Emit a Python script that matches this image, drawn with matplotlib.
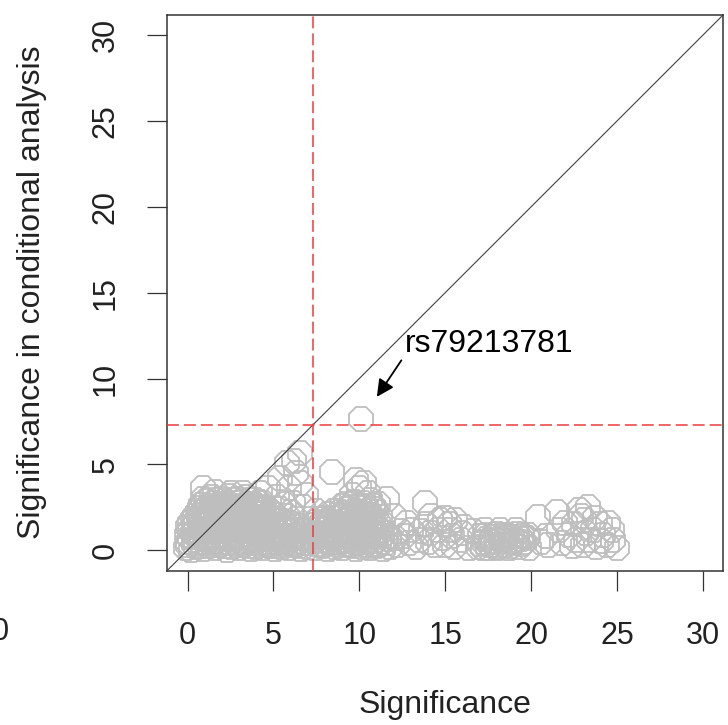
import matplotlib
matplotlib.use("Agg")
from matplotlib import pyplot as plt

plt.rcParams['font.family'] = ['Liberation Sans', 'DejaVu Sans']

# (significance, significance in conditional analysis)
low_block = [
    (-0.1, 0.1), (0.2, 0.0), (0.5, 0.2), (0.9, 0.05), (1.2, 0.25), (1.6, 0.1), (1.9, 0.3),
    (2.3, 0.0), (2.6, 0.2), (3.0, 0.1), (3.3, 0.3), (3.7, 0.05), (4.0, 0.2), (4.4, 0.1),
    (4.8, 0.25), (5.1, 0.05), (5.5, 0.2), (5.9, 0.1), (6.3, 0.3), (6.6, 0.05), (7.0, 0.2),
    (0.0, 0.5), (0.35, 0.6), (0.7, 0.45), (1.0, 0.65), (1.4, 0.5), (1.75, 0.7), (2.1, 0.5),
    (2.45, 0.65), (2.8, 0.45), (3.15, 0.7), (3.5, 0.5), (3.85, 0.6), (4.2, 0.45), (4.6, 0.65),
    (4.95, 0.5), (5.3, 0.6), (5.7, 0.45), (6.1, 0.65), (6.5, 0.5), (6.9, 0.6),
    (-0.05, 0.9), (0.3, 1.0), (0.65, 0.85), (1.0, 1.05), (1.3, 0.9), (1.7, 1.1), (2.0, 0.9),
    (2.4, 1.0), (2.75, 0.85), (3.1, 1.1), (3.45, 0.95), (3.8, 1.05), (4.15, 0.9), (4.5, 1.1),
    (4.9, 0.9), (5.25, 1.0), (5.6, 0.85), (6.0, 1.05), (6.4, 0.95), (6.8, 1.1),
    (0.0, 1.35), (0.35, 1.4), (0.7, 1.25), (1.05, 1.45), (1.4, 1.3), (1.75, 1.5), (2.1, 1.3),
    (2.45, 1.45), (2.8, 1.3), (3.15, 1.5), (3.5, 1.35), (3.85, 1.45), (4.2, 1.3), (4.55, 1.5),
    (4.9, 1.35), (5.3, 1.45), (5.7, 1.3), (6.1, 1.5), (6.5, 1.4),
    (0.3, 1.8), (0.65, 1.9), (1.0, 1.75), (1.35, 1.95), (1.7, 1.8), (2.05, 1.9), (2.4, 1.75),
    (2.75, 1.95), (3.1, 1.8), (3.45, 1.9), (3.8, 1.75), (4.15, 1.95), (4.5, 1.8), (4.9, 1.9),
    (5.3, 1.75), (5.8, 2.0), (6.3, 1.8),
    (0.6, 2.2), (0.95, 2.3), (1.3, 2.15), (1.65, 2.35), (2.0, 2.2), (2.35, 2.3), (2.7, 2.15),
    (3.05, 2.35), (3.4, 2.2), (3.75, 2.3), (4.1, 2.15), (4.45, 2.35), (4.85, 2.2), (5.4, 2.4),
    (6.0, 2.2),
    (0.8, 2.65), (1.2, 2.6), (1.55, 2.75), (1.9, 2.6), (2.25, 2.7), (2.6, 2.55), (2.95, 2.75),
    (3.3, 2.6), (3.65, 2.7), (4.0, 2.6), (4.4, 2.75),
    (0.9, 3.0), (1.4, 3.1), (1.9, 3.0), (2.4, 3.15), (2.9, 3.0), (3.4, 3.1), (3.9, 2.95),
    (0.9, 3.6), (1.6, 3.4), (2.5, 3.3), (3.2, 3.35), (4.2, 3.3), (4.7, 3.6), (5.2, 3.1),
    (5.6, 2.7),
]

low_block_more = [
    (0.05, 0.3), (0.4, 0.35), (0.75, 0.25), (1.05, 0.4), (1.4, 0.3), (1.75, 0.35), (2.1, 0.25),
    (2.45, 0.4), (2.8, 0.3), (3.15, 0.35), (3.5, 0.25), (3.9, 0.4), (4.25, 0.3), (4.6, 0.35),
    (4.95, 0.25), (5.3, 0.4), (5.7, 0.3), (6.1, 0.35), (6.5, 0.25), (6.85, 0.4),
    (0.15, 0.75), (0.5, 0.8), (0.85, 0.7), (1.2, 0.85), (1.55, 0.75), (1.9, 0.8), (2.25, 0.7),
    (2.6, 0.85), (2.95, 0.75), (3.3, 0.8), (3.65, 0.7), (4.0, 0.85), (4.35, 0.75), (4.75, 0.8),
    (5.1, 0.7), (5.45, 0.85), (5.85, 0.75), (6.25, 0.8), (6.65, 0.7), (7.05, 0.85),
    (0.15, 1.15), (0.5, 1.2), (0.85, 1.1), (1.2, 1.25), (1.55, 1.15), (1.9, 1.2), (2.25, 1.1),
    (2.6, 1.25), (2.95, 1.15), (3.3, 1.2), (3.65, 1.1), (4.0, 1.25), (4.35, 1.15), (4.7, 1.2),
    (5.1, 1.1), (5.45, 1.25), (5.85, 1.15), (6.25, 1.2), (6.7, 1.1),
    (0.15, 1.6), (0.5, 1.65), (0.85, 1.55), (1.2, 1.7), (1.55, 1.6), (1.9, 1.65), (2.25, 1.55),
    (2.6, 1.7), (2.95, 1.6), (3.3, 1.65), (3.65, 1.55), (4.0, 1.7), (4.35, 1.6), (4.7, 1.65),
    (5.1, 1.55), (5.5, 1.7), (5.95, 1.6),
    (0.45, 2.0), (0.8, 2.05), (1.15, 1.95), (1.5, 2.1), (1.85, 2.0), (2.2, 2.05), (2.55, 1.95),
    (2.9, 2.1), (3.25, 2.0), (3.6, 2.05), (3.95, 1.95), (4.3, 2.1), (4.7, 2.0), (5.1, 2.05),
    (0.75, 2.45), (1.1, 2.4), (1.45, 2.5), (1.8, 2.4), (2.15, 2.5), (2.5, 2.4), (2.85, 2.5),
    (3.2, 2.4), (3.55, 2.5), (3.9, 2.4), (4.25, 2.5), (4.65, 2.45),
    (1.05, 2.85), (1.65, 2.9), (2.15, 2.85), (2.65, 2.9), (3.15, 2.85), (3.65, 2.9), (4.15, 2.8),
]

diagonal_group = [
    (5.76, 5.07), (6.54, 5.66), (6.2, 5.2), (6.54, 3.9), (6.13, 2.75), (6.7, 2.5),
    (5.9, 3.6), (6.9, 3.2), (5.4, 4.2), (6.3, 4.5),
]

ten_block = [
    (7.4, 0.1), (7.8, 0.25), (8.2, 0.05), (8.6, 0.2), (9.0, 0.1), (9.4, 0.3), (9.8, 0.05),
    (10.2, 0.2), (10.6, 0.1), (11.0, 0.25), (11.4, 0.05), (11.8, 0.2),
    (7.3, 0.55), (7.7, 0.6), (8.1, 0.45), (8.5, 0.65), (8.9, 0.5), (9.3, 0.6), (9.7, 0.45),
    (10.1, 0.65), (10.5, 0.5), (10.9, 0.6), (11.3, 0.5), (11.7, 0.65),
    (7.5, 1.0), (7.9, 0.9), (8.3, 1.05), (8.7, 0.95), (9.1, 1.1), (9.5, 0.9), (9.9, 1.05),
    (10.3, 0.95), (10.7, 1.1), (11.1, 0.9), (11.5, 1.0),
    (7.4, 1.45), (7.8, 1.35), (8.2, 1.5), (8.6, 1.4), (9.0, 1.55), (9.4, 1.35), (9.8, 1.5),
    (10.2, 1.4), (10.6, 1.55), (11.0, 1.4), (11.4, 1.5),
    (7.6, 1.8), (8.0, 1.9), (8.4, 1.85), (8.8, 1.95), (9.2, 1.8), (9.6, 1.95), (10.0, 1.85),
    (10.4, 1.9), (10.8, 1.8), (11.2, 1.95),
    (8.5, 2.3), (8.9, 2.25), (9.3, 2.4), (9.7, 2.3), (10.1, 2.45), (10.5, 2.3), (10.9, 2.4),
    (9.2, 2.7), (9.7, 2.8), (10.2, 2.75), (10.6, 2.9), (11.1, 2.7),
    (8.38, 4.57), (9.83, 4.08), (10.0, 3.6), (10.3, 3.9), (11.6, 3.0), (9.6, 3.2),
    (10.5, 3.3), (12.0, 2.0), (7.5, 2.3),
]

ten_block_more = [
    (7.55, 0.35), (7.95, 0.3), (8.35, 0.4), (8.75, 0.3), (9.15, 0.35), (9.55, 0.25),
    (9.95, 0.4), (10.35, 0.3), (10.75, 0.35), (11.15, 0.3), (11.55, 0.4),
    (7.35, 0.8), (7.7, 0.75), (8.1, 0.85), (8.5, 0.75), (8.9, 0.8), (9.3, 0.75), (9.7, 0.85),
    (10.1, 0.75), (10.5, 0.8), (10.9, 0.75), (11.3, 0.85), (11.7, 0.8),
    (7.6, 1.2), (8.0, 1.25), (8.4, 1.15), (8.8, 1.25), (9.2, 1.2), (9.6, 1.15), (10.0, 1.25),
    (10.4, 1.2), (10.8, 1.25), (11.2, 1.15),
    (7.5, 1.65), (7.9, 1.6), (8.3, 1.7), (8.7, 1.6), (9.1, 1.7), (9.5, 1.6), (9.9, 1.7),
    (10.3, 1.6), (10.7, 1.7), (11.1, 1.6),
    (8.2, 2.1), (8.7, 2.05), (9.1, 2.15), (9.5, 2.05), (9.9, 2.15), (10.3, 2.1), (10.7, 2.05),
    (11.0, 2.2),
    (9.0, 2.55), (9.5, 2.5), (10.0, 2.6), (10.4, 2.55), (10.8, 2.6),
]

fifteen_group = [
    (12.2, 0.3), (12.6, 0.8), (13.0, 1.2), (13.5, 0.6), (13.3, 0.2), (13.8, 2.75),
    (14.1, 1.0), (14.4, 0.3), (14.7, 1.75), (14.9, 0.7), (15.0, 0.3), (15.3, 1.2),
    (15.6, 1.75), (15.9, 0.6), (16.1, 1.35), (16.4, 0.15), (12.8, 1.6), (13.9, 1.5),
    (15.5, 0.2), (12.4, 1.1), (14.2, 2.0), (15.0, 1.9),
    (12.1, 0.7), (12.9, 0.4), (13.6, 1.1), (14.6, 1.2), (15.4, 0.8), (16.0, 1.0),
    (14.0, 0.5), (15.2, 1.5),
]

eighteen_block = [
    (16.9, 0.2), (17.2, 0.5), (17.5, 0.15), (17.8, 0.45), (18.1, 0.2), (18.4, 0.55),
    (18.7, 0.1), (19.0, 0.4), (19.3, 0.2), (19.6, 0.5), (19.9, 0.15),
    (17.0, 0.8), (17.4, 0.9), (17.7, 0.75), (18.0, 0.95), (18.3, 0.8), (18.6, 0.9),
    (18.9, 0.75), (19.2, 0.95), (19.5, 0.8), (19.8, 0.9),
    (17.3, 1.2), (18.2, 1.15), (19.1, 1.2), (16.6, 1.1), (17.6, 0.3), (18.5, 0.3),
    (19.4, 0.65), (20.4, 1.95), (20.6, 0.5), (21.0, 0.3), (20.9, 0.8),
    (17.05, 0.35), (17.35, 0.65), (17.65, 0.55), (17.95, 0.3), (18.25, 0.65), (18.55, 0.7),
    (18.85, 0.5), (19.15, 0.6), (19.45, 0.35), (19.75, 0.7), (17.2, 0.15), (18.0, 0.1),
    (18.8, 0.25),
]

twentythree_group = [
    (21.5, 2.2), (22.8, 2.35), (23.1, 1.75), (24.0, 1.5), (24.7, 1.2), (24.4, 0.3),
    (25.0, 0.15), (23.4, 0.6), (22.2, 0.9), (21.8, 0.4), (22.5, 1.5), (22.9, 2.0),
    (23.6, 1.2), (24.2, 0.9), (24.8, 0.6), (23.0, 0.3), (23.8, 0.2), (22.6, 0.6),
    (21.6, 1.2), (24.5, 1.6), (23.3, 2.5),
    (22.0, 1.6), (23.2, 1.0), (24.1, 0.55), (22.4, 0.25), (23.7, 1.9),
]

top_snp = (10.12, 7.63)
top_snp_name = "rs79213781"

gw_threshold = 7.3
ticks = [0, 5, 10, 15, 20, 25, 30]

all_points = (low_block + low_block_more + diagonal_group + ten_block + ten_block_more
              + fifteen_group + eighteen_block + twentythree_group + [top_snp])
sig = [p[0] for p in all_points]
cond = [p[1] for p in all_points]

fig = plt.figure(figsize=(7.28, 7.25), dpi=100)
ax = fig.add_axes([0.2294, 0.2128, 0.7642, 0.7669])

ax.plot(sig, cond, linestyle='none', marker='8', markersize=19,
        markerfacecolor='none', markeredgecolor='#bebebe', markeredgewidth=1.3, zorder=2)

ax.plot([-1.2, 31.2], [-1.2, 31.2], color='#404040', lw=0.8, zorder=3)
ax.axvline(gw_threshold, color='#ee3b3b', lw=1.1, dashes=(7.8, 3.3), zorder=4)
ax.axhline(gw_threshold, color='#ee3b3b', lw=1.1, dashes=(7.8, 3.3), zorder=4)

ax.annotate('', xy=(top_snp[0] + 0.9, top_snp[1] + 1.3),
            xytext=(top_snp[0] + 2.33, top_snp[1] + 3.43),
            arrowprops=dict(arrowstyle='-|>', color='black', lw=1.3,
                            mutation_scale=26, shrinkA=0, shrinkB=0))
ax.text(top_snp[0] + 2.55, top_snp[1] + 4.38, top_snp_name, fontsize=23,
        ha='left', va='center')

ax.set_xlim(-1.2, 31.2)
ax.set_ylim(-1.2, 31.2)
ax.set_xticks(ticks)
ax.set_yticks(ticks)
ax.set_xticklabels([str(t) for t in ticks])
ax.set_yticklabels([str(t) for t in ticks], rotation=90, va='center')

for s in ax.spines.values():
    s.set_color('#333333')
    s.set_linewidth(1.1)
ax.tick_params(axis='both', direction='out', length=14.5, width=0.9,
               color='#333333', labelsize=22, labelcolor='#222222')
ax.tick_params(axis='x', pad=22)
ax.tick_params(axis='y', pad=19)

fig.text(445 / 728, 1 - 705 / 725, "Significance", fontsize=23,
         ha='center', va='center', color='#222222')
fig.text(32 / 728, 1 - 292 / 725, "Significance in conditional analysis", fontsize=23,
         ha='center', va='center', rotation=90, color='#222222')
# piece of the neighbouring panel's tick label, cut by the image edge
fig.text(0.0, 1 - 632 / 725, "0", fontsize=22, ha='center', va='center', color='#222222')

fig.savefig('out.png', dpi=100)
